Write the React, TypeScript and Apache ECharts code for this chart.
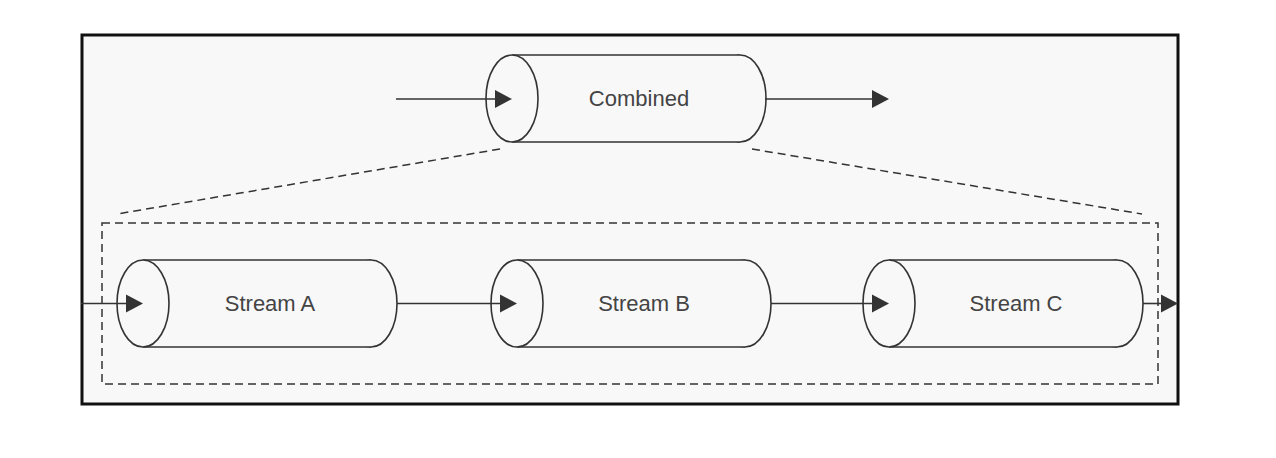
import React, { useEffect, useRef } from 'react';
import * as echarts from 'echarts';

const combinedName = 'Combined';
const streamNames = ['Stream A', 'Stream B', 'Stream C'];
const streamLefts = [143, 517, 889];

const INK = '#333';
const FILL = '#f8f8f8';

function cylinder(cx: number, cy: number, len: number, label: string) {
  const rx = 26, ry = 43.5;
  const s = { stroke: INK, lineWidth: 1.6 };
  return [
    { type: 'ellipse', shape: { cx: cx + len, cy, rx, ry }, style: { fill: FILL, ...s } },
    { type: 'rect', shape: { x: cx, y: cy - ry, width: len, height: ry * 2 }, style: { fill: FILL } },
    { type: 'line', shape: { x1: cx, y1: cy - ry, x2: cx + len, y2: cy - ry }, style: s },
    { type: 'line', shape: { x1: cx, y1: cy + ry, x2: cx + len, y2: cy + ry }, style: s },
    { type: 'ellipse', shape: { cx, cy, rx, ry }, style: { fill: FILL, ...s } },
    {
      type: 'text', x: cx + len / 2 + 13, y: cy,
      style: { text: label, fill: '#444', font: '22px "Liberation Sans", Arial, sans-serif', align: 'center', verticalAlign: 'middle' },
    },
  ];
}

function arrow(x1: number, x2: number, y: number, head = true) {
  const els: any[] = [{ type: 'line', shape: { x1, y1: y, x2: x2 - (head ? 10 : 0), y2: y }, style: { stroke: INK, lineWidth: 1.6 } }];
  if (head) els.push({ type: 'polygon', shape: { points: [[x2, y], [x2 - 17, y - 9], [x2 - 17, y + 9]] }, style: { fill: INK } });
  return els;
}

export default function App() {
  const ref = useRef<HTMLDivElement | null>(null);

  useEffect(() => {
    document.body.style.margin = '0';
    if (!ref.current) return;
    const chart = echarts.init(ref.current, undefined, { renderer: 'svg' });
    const dash = { stroke: INK, lineWidth: 1.5, lineDash: [8, 5] };
    const elements: any[] = [
      { type: 'rect', shape: { x: 82, y: 35, width: 1096, height: 369 }, style: { fill: FILL, stroke: '#111', lineWidth: 3 } },
      { type: 'rect', shape: { x: 102, y: 223, width: 1056, height: 161 }, style: { fill: 'none', ...dash } },
      { type: 'line', shape: { x1: 500, y1: 149, x2: 117, y2: 214 }, style: dash },
      { type: 'line', shape: { x1: 752, y1: 149, x2: 1142, y2: 214 }, style: dash },
      ...cylinder(512, 98.5, 228, combinedName),
      ...arrow(396, 512, 99),
      ...arrow(765, 889, 99),
    ];
    const sy = 303.5;
    let prevEnd = 81;
    streamNames.forEach((name, i) => {
      const cx = streamLefts[i];
      elements.push(...cylinder(cx, sy, 228, name));
      elements.push(...arrow(prevEnd, cx, sy));
      prevEnd = cx + 228 + 26;
    });
    elements.push(...arrow(prevEnd, 1178, sy));
    chart.setOption({ animation: false, graphic: { elements } });
    return () => chart.dispose();
  }, []);

  return <div ref={ref} style={{ width: 1276, height: 458, background: '#fff' }} />;
}
